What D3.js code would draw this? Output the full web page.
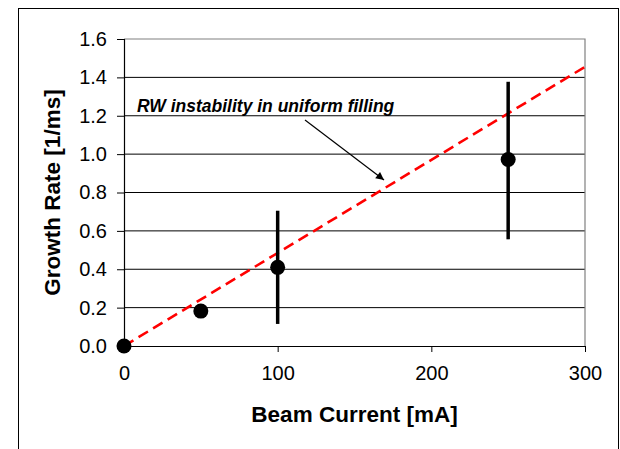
<!DOCTYPE html>
<html>
<head>
<meta charset="utf-8">
<script src="https://cdn.jsdelivr.net/npm/d3@7"></script>
<style>
  html, body { margin: 0; padding: 0; background: #fff; }
  svg { display: block; }
  text { font-family: "Liberation Sans", Arial, sans-serif; }
</style>
</head>
<body>
<svg id="chart" width="620" height="449"></svg>
<script>
// ---- data ----
const current = [0, 50, 100, 250];          // Beam Current [mA]
const growthRate = [0.0, 0.182, 0.41, 0.972]; // Growth Rate [1/ms]
const errLow = [null, null, 0.115, 0.556];
const errHigh = [null, null, 0.705, 1.377];
const fitCurrent = [0, 300];
const fitRate = [0.0, 1.455];
const xTicks = [0, 100, 200, 300];
const yTicks = [0.0, 0.2, 0.4, 0.6, 0.8, 1.0, 1.2, 1.4, 1.6];
const xTitle = "Beam Current [mA]";
const yTitle = "Growth Rate [1/ms]";
const annotation = "RW instability in uniform filling";

// ---- layout ----
const svg = d3.select("#chart");
const plot = { left: 124, right: 585, top: 39, bottom: 346 };

const x = d3.scaleLinear().domain([0, 300]).range([plot.left, plot.right]);
const y = d3.scaleLinear().domain([0, 1.6]).range([plot.bottom, plot.top]);

// outer chart border
svg.append("rect")
  .attr("x", 18.5).attr("y", 8.5)
  .attr("width", 600).attr("height", 460)
  .attr("fill", "none").attr("stroke", "#000").attr("stroke-width", 1);

// gridlines
svg.append("g").selectAll("line")
  .data(yTicks.filter(d => d > 0 && d < 1.6))
  .join("line")
  .attr("x1", plot.left).attr("x2", plot.right)
  .attr("y1", d => y(d)).attr("y2", d => y(d))
  .attr("stroke", "#000").attr("stroke-width", 1);

// plot border top/right (gray)
svg.append("path")
  .attr("d", `M${plot.left},${y(1.6)}H${plot.right}V${plot.bottom}`)
  .attr("fill", "none").attr("stroke", "#808080").attr("stroke-width", 1.2);

// y axis
const yAxis = d3.axisLeft(y).tickValues(yTicks).tickFormat(d3.format(".1f"))
  .tickSize(7).tickPadding(10);
const gy = svg.append("g").attr("transform", `translate(${plot.left},0)`).call(yAxis);
gy.select(".domain").attr("stroke", "#000").attr("stroke-width", 1.2);
gy.selectAll(".tick line").attr("stroke", "#000");
gy.selectAll(".tick text").attr("font-size", 20).attr("fill", "#000")
  .attr("font-family", "'Liberation Sans', Arial, sans-serif");

// x axis
const xAxis = d3.axisBottom(x).tickValues(xTicks).tickFormat(d3.format("d"))
  .tickSize(6).tickSizeOuter(0).tickPadding(14);
const gx = svg.append("g").attr("transform", `translate(0,${plot.bottom})`).call(xAxis);
gx.select(".domain").attr("stroke", "#000").attr("stroke-width", 1.2);
gx.selectAll(".tick line").attr("stroke", "#000");
gx.selectAll(".tick text").attr("font-size", 20).attr("fill", "#000")
  .attr("font-family", "'Liberation Sans', Arial, sans-serif");

// axis titles
svg.append("text")
  .attr("x", (plot.left + plot.right) / 2).attr("y", 422)
  .attr("text-anchor", "middle").attr("font-size", 22.5).attr("font-weight", "bold")
  .text(xTitle);
svg.append("text")
  .attr("transform", `translate(60,${(plot.top + plot.bottom) / 2}) rotate(-90)`)
  .attr("text-anchor", "middle").attr("font-size", 22.5).attr("font-weight", "bold")
  .text(yTitle);

// fit line (dashed red)
const line = d3.line().x(d => x(d[0])).y(d => y(d[1]));
svg.append("path")
  .datum(fitCurrent.map((c, i) => [c, fitRate[i]]))
  .attr("d", line)
  .attr("fill", "none").attr("stroke", "#ff0000").attr("stroke-width", 2.6)
  .attr("stroke-dasharray", "11,6");

// error bars
svg.append("g").selectAll("line")
  .data(current.map((c, i) => ({ c, lo: errLow[i], hi: errHigh[i] })).filter(d => d.lo !== null))
  .join("line")
  .attr("x1", d => x(d.c)).attr("x2", d => x(d.c))
  .attr("y1", d => y(d.lo)).attr("y2", d => y(d.hi))
  .attr("stroke", "#000").attr("stroke-width", 3.5);

// markers
svg.append("g").selectAll("circle")
  .data(current.map((c, i) => [c, growthRate[i]]))
  .join("circle")
  .attr("cx", d => x(d[0])).attr("cy", d => y(d[1]))
  .attr("r", 7.5).attr("fill", "#000");

// annotation
svg.append("text")
  .attr("x", 137).attr("y", 112)
  .attr("font-size", 17.5).attr("font-weight", "bold").attr("font-style", "italic")
  .text(annotation);

// arrow
svg.append("defs").append("marker")
  .attr("id", "arrow").attr("viewBox", "0 0 10 10")
  .attr("refX", 10).attr("refY", 5)
  .attr("markerWidth", 10).attr("markerHeight", 8)
  .attr("markerUnits", "userSpaceOnUse")
  .attr("orient", "auto")
  .append("path").attr("d", "M0,0L10,5L0,10Z").attr("fill", "#000");
svg.append("line")
  .attr("x1", 305).attr("y1", 120).attr("x2", 384).attr("y2", 180)
  .attr("stroke", "#000").attr("stroke-width", 1.2)
  .attr("marker-end", "url(#arrow)");
</script>
</body>
</html>
